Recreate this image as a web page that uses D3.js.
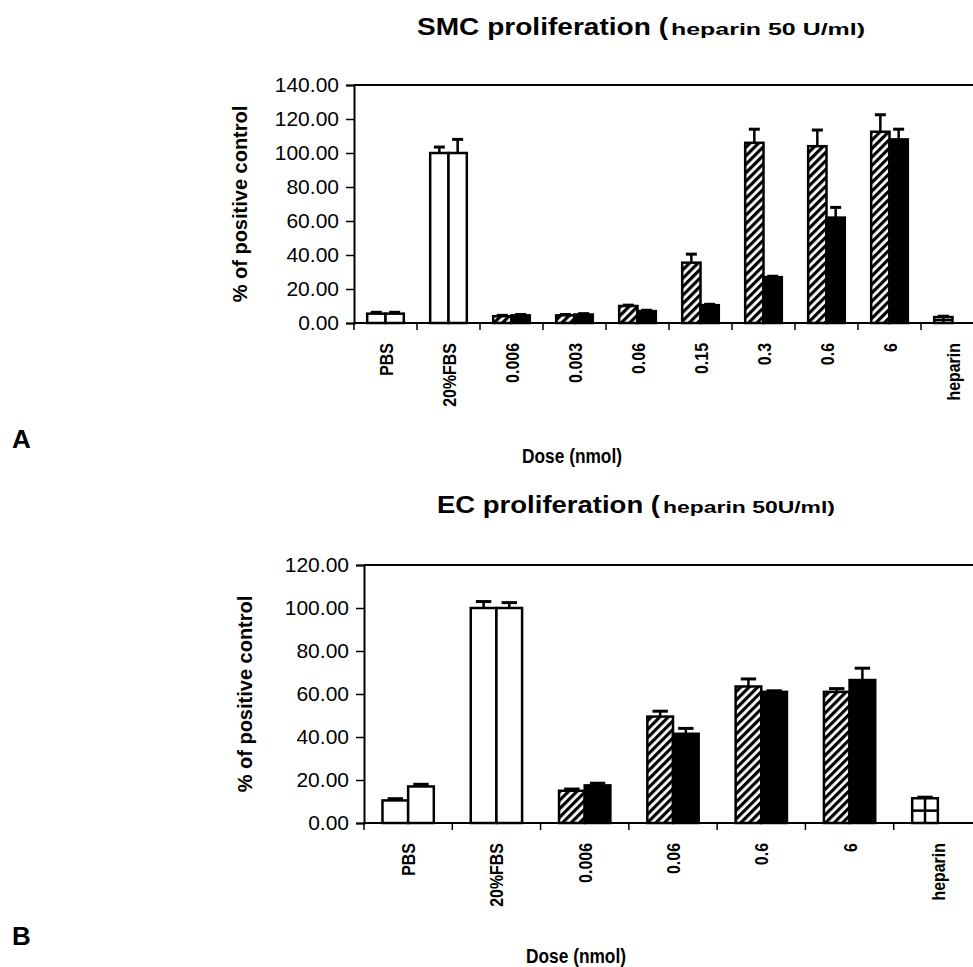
<!DOCTYPE html>
<html><head><meta charset="utf-8">
<script src="https://cdn.jsdelivr.net/npm/d3@7"></script>
<style>body{margin:0;background:#fff}text{font-family:Arial,"Liberation Sans",Helvetica,sans-serif}</style>
</head><body><svg id="c" width="973" height="967"></svg>
<script>
// ---------- Panel A data (SMC proliferation) ----------
const catsA   = ["PBS","20%FBS","0.006","0.003","0.06","0.15","0.3","0.6","6","heparin"];
const kindA   = ["control","control","dose","dose","dose","dose","dose","dose","dose","heparin"];
const valA1   = [5.5, 100, 4, 4.5, 10, 35.5, 106, 104, 112.5, 3.5];
const errA1   = [0.8, 3.5, 0.5, 0.5, 0.5, 5, 8, 9.5, 10, 0.5];
const valA2   = [5.5, 100, 4.5, 5, 7, 10.5, 27, 62, 108, null];
const errA2   = [0.8, 8, 0.5, 0.5, 0.5, 0.5, 0.5, 6, 6, null];
const ticksA  = [0, 20, 40, 60, 80, 100, 120, 140];

// ---------- Panel B data (EC proliferation) ----------
const catsB   = ["PBS","20%FBS","0.006","0.06","0.6","6","heparin"];
const kindB   = ["control","control","dose","dose","dose","dose","heparin"];
const valB1   = [10.5, 100, 15, 49.5, 63.5, 61, 11.5];
const errB1   = [0.8, 3, 0.8, 2.5, 3.5, 1.5, 0.5];
const valB2   = [17, 100, 17.5, 41.5, 61, 66.5, null];
const errB2   = [1, 2.5, 1, 2.5, 0.5, 5.5, null];
const ticksB  = [0, 20, 40, 60, 80, 100, 120];

const svg = d3.select("#c");
const defs = svg.append("defs");
const hatch = defs.append("pattern").attr("id","hatch").attr("patternUnits","userSpaceOnUse")
  .attr("width",6).attr("height",6).attr("patternTransform","rotate(45)");
hatch.append("rect").attr("width",6).attr("height",6).attr("fill","#fff");
hatch.append("rect").attr("x",0).attr("width",3.2).attr("height",6).attr("fill","#000");

function panel(cfg){
  const {cats, kind, v1, e1, v2, e2, ticks, x0, x1, yTop, yBot, yMax, title, sub, titleX, titleLen, subLen, titleY, doseX, doseY, yTitleX, letter, letterY} = cfg;
  const g = svg.append("g");
  const x = d3.scaleBand().domain(cats).range([x0, x1]).paddingInner(0).paddingOuter(0);
  const xs = d3.scaleBand().domain(["s1","s2"]).range([0, x.bandwidth()]).paddingInner(0).paddingOuter(0.72);
  const y = d3.scaleLinear().domain([0, yMax]).range([yBot, yTop]);

  // top frame line
  g.append("line").attr("x1",x0).attr("x2",973).attr("y1",yTop).attr("y2",yTop)
    .attr("stroke","#000").attr("stroke-width",2);

  // y axis
  const ya = g.append("g").attr("transform",`translate(${x0},0)`)
    .call(d3.axisLeft(y).tickValues(ticks).tickFormat(d3.format(".2f")).tickSize(8).tickPadding(7));
  ya.select(".domain").attr("stroke-width",2);
  ya.selectAll(".tick line").attr("stroke-width",1.5);
  ya.selectAll("text").attr("font-size",21).attr("fill","#000");

  // x axis (ticks at band boundaries)
  const xa = g.append("g").attr("transform",`translate(0,${yBot})`);
  xa.append("line").attr("x1",x0).attr("x2",973).attr("stroke","#000").attr("stroke-width",2);
  const bounds = cats.map(c => x(c)).concat([x(cats[cats.length-1]) + x.bandwidth()]).filter(b => b <= 973);
  xa.selectAll(".xt").data(bounds).join("line").attr("x1",d=>d).attr("x2",d=>d)
    .attr("y1",0).attr("y2",7).attr("stroke","#000").attr("stroke-width",1.5);
  xa.selectAll(".xl").data(cats).join("text")
    .attr("transform",d=>`translate(${x(d)+x.bandwidth()/2+7},20) rotate(-90) scale(0.84,1)`)
    .attr("text-anchor","end").attr("font-size",19).attr("font-weight","bold").text(d=>d);

  const bw = xs.bandwidth();
  const bars = [];
  cats.forEach((c,i)=>{
    bars.push({c, s:"s1", v:v1[i], e:e1[i], k:kind[i]});
    if (v2[i] != null) bars.push({c, s:"s2", v:v2[i], e:e2[i], k:kind[i]});
  });
  const fillOf = b => b.k === "control" ? "#fff" : b.k === "heparin" ? "#fff" : (b.s === "s1" ? "url(#hatch)" : "#000");

  // error bars
  g.selectAll(".eb").data(bars).join("line")
    .attr("x1",b=>x(b.c)+xs(b.s)+bw/2).attr("x2",b=>x(b.c)+xs(b.s)+bw/2)
    .attr("y1",b=>y(b.v)).attr("y2",b=>y(b.v+b.e)).attr("stroke","#000").attr("stroke-width",2.5);
  g.selectAll(".ec").data(bars).join("line")
    .attr("x1",b=>x(b.c)+xs(b.s)+bw*0.2).attr("x2",b=>x(b.c)+xs(b.s)+bw*0.8)
    .attr("y1",b=>y(b.v+b.e)).attr("y2",b=>y(b.v+b.e)).attr("stroke","#000").attr("stroke-width",3);

  // bars
  g.selectAll(".bar").data(bars).join("rect")
    .attr("x",b=>x(b.c)+xs(b.s)).attr("width",bw)
    .attr("y",b=>y(b.v)).attr("height",b=>y(0)-y(b.v))
    .attr("fill",fillOf).attr("stroke","#000").attr("stroke-width",2.5);

  // heparin grid cross
  const hep = bars.filter(b=>b.k==="heparin");
  g.selectAll(".hv").data(hep).join("line")
    .attr("x1",b=>x(b.c)+xs(b.s)+bw/2).attr("x2",b=>x(b.c)+xs(b.s)+bw/2)
    .attr("y1",b=>y(b.v)).attr("y2",y(0)).attr("stroke","#000").attr("stroke-width",2.5);
  g.selectAll(".hh").data(hep).join("line")
    .attr("x1",b=>x(b.c)+xs(b.s)).attr("x2",b=>x(b.c)+xs(b.s)+bw)
    .attr("y1",b=>y(b.v/2)).attr("y2",b=>y(b.v/2)).attr("stroke","#000").attr("stroke-width",2.5);

  // y axis title
  g.append("text").attr("transform",`translate(${yTitleX},${(yTop+yBot)/2}) rotate(-90)`)
    .attr("text-anchor","middle").attr("font-size",20).attr("font-weight","bold").text("% of positive control");

  // titles
  g.append("text").attr("x",titleX).attr("y",titleY).attr("font-weight","bold").attr("font-size",23)
    .attr("textLength",titleLen).attr("lengthAdjust","spacingAndGlyphs").text(title);
  g.append("text").attr("x",titleX+titleLen+3).attr("y",titleY).attr("font-weight","bold").attr("font-size",17)
    .attr("textLength",subLen).attr("lengthAdjust","spacingAndGlyphs").text(sub);
  g.append("text").attr("x",doseX).attr("y",doseY).attr("text-anchor","middle")
    .attr("font-size",20).attr("font-weight","bold").attr("textLength",100).attr("lengthAdjust","spacingAndGlyphs").text("Dose (nmol)");
  g.append("text").attr("x",12).attr("y",letterY).attr("font-size",26).attr("font-weight","bold").text(letter);
}

panel({cats:catsA, kind:kindA, v1:valA1, e1:errA1, v2:valA2, e2:errA2, ticks:ticksA,
  x0:354, x1:984, yTop:85, yBot:323, yMax:140,
  title:"SMC proliferation (", sub:"heparin 50 U/ml)", titleX:417, titleLen:251, subLen:194, titleY:35,
  doseX:572, doseY:463, yTitleX:247, letter:"A", letterY:448});
panel({cats:catsB, kind:kindB, v1:valB1, e1:errB1, v2:valB2, e2:errB2, ticks:ticksB,
  x0:364, x1:982, yTop:565, yBot:823, yMax:120,
  title:"EC proliferation (", sub:"heparin 50U/ml)", titleX:437, titleLen:223, subLen:172, titleY:513,
  doseX:576, doseY:963, yTitleX:252, letter:"B", letterY:945});
</script></body></html>
